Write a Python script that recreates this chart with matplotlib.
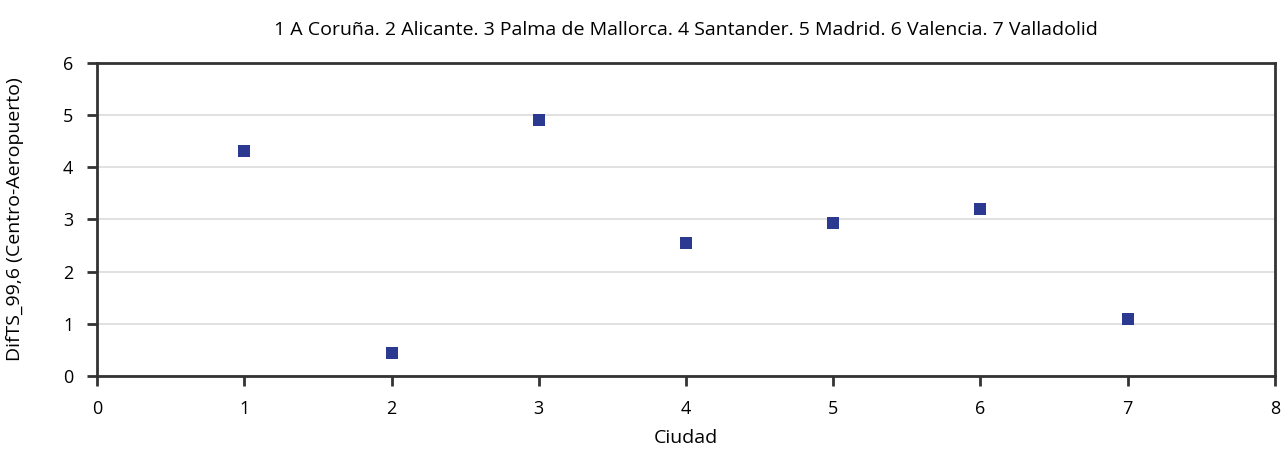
import matplotlib
matplotlib.use("Agg")
import matplotlib.pyplot as plt

ciudades = [1, 2, 3, 4, 5, 6, 7]
dif_ts = [4.31, 0.44, 4.90, 2.55, 2.93, 3.20, 1.09]
titulo = "1 A Coruña. 2 Alicante. 3 Palma de Mallorca. 4 Santander. 5 Madrid. 6 Valencia. 7 Valladolid"

plt.rcParams['font.family'] = ['Open Sans', 'DejaVu Sans']

fig = plt.figure(figsize=(12.82, 4.73), dpi=100)
ax = fig.add_axes([0.0757, 0.2051, 0.9188, 0.6617])

ax.scatter(ciudades, dif_ts, marker="s", s=80, color="#2b3990", zorder=3, linewidths=0)

ax.set_xlim(0, 8)
ax.set_ylim(0, 6)
ax.set_xticks(range(0, 9))
ax.set_yticks(range(0, 7))
ax.yaxis.grid(True, color="#dcdcdc", linewidth=1.2)
ax.set_axisbelow(True)

for s in ax.spines.values():
    s.set_color("#333333")
    s.set_linewidth(2)
ax.tick_params(direction="out", length=7, width=2, color="#333333", labelsize=13, pad=10)

ax.set_xlabel("Ciudad", fontsize=14, labelpad=8)
ax.set_ylabel("DifTS_99,6 (Centro-Aeropuerto)", fontsize=14, labelpad=28)
ax.set_title(titulo, fontsize=14, pad=20)

fig.savefig("out.png", dpi=100)
